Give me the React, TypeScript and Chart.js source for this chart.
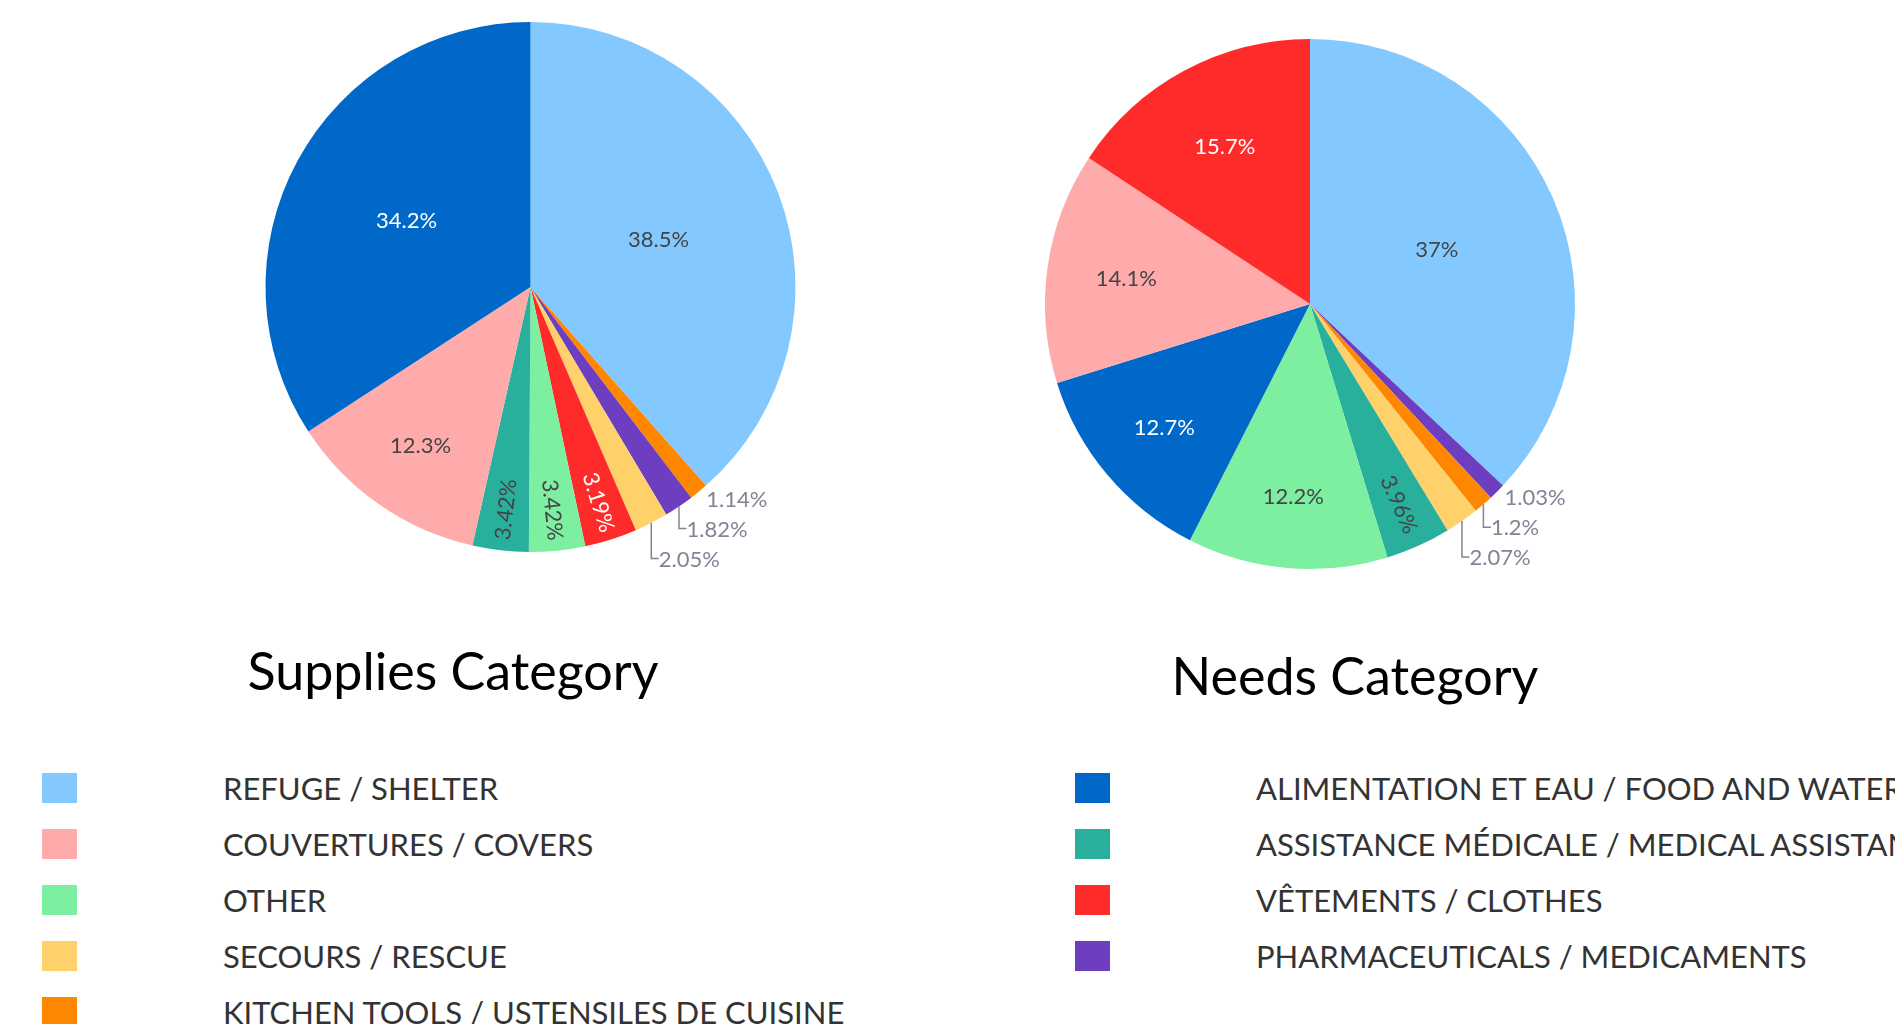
import React, { useEffect, useRef } from 'react';
import { Chart, registerables } from 'chart.js';

Chart.register(...registerables);

// ---- Data ----
const CATEGORIES = [
  'REFUGE / SHELTER',
  'COUVERTURES / COVERS',
  'OTHER',
  'SECOURS / RESCUE',
  'KITCHEN TOOLS / USTENSILES DE CUISINE',
  'ALIMENTATION ET EAU / FOOD AND WATER',
  'ASSISTANCE MÉDICALE / MEDICAL ASSISTANCE',
  'VÊTEMENTS / CLOTHES',
  'PHARMACEUTICALS / MEDICAMENTS',
];
const CATEGORY_COLORS = [
  '#83C9FF',
  '#FFABAB',
  '#7DEFA1',
  '#FFD16A',
  '#FF8700',
  '#0068C9',
  '#29B09D',
  '#FF2B2B',
  '#6D3FC0',
];

const SUPPLY_TITLE = 'Supplies Category';
const SUPPLY_CATEGORIES = [
  'REFUGE / SHELTER',
  'KITCHEN TOOLS / USTENSILES DE CUISINE',
  'PHARMACEUTICALS / MEDICAMENTS',
  'SECOURS / RESCUE',
  'VÊTEMENTS / CLOTHES',
  'OTHER',
  'ASSISTANCE MÉDICALE / MEDICAL ASSISTANCE',
  'COUVERTURES / COVERS',
  'ALIMENTATION ET EAU / FOOD AND WATER',
];
const SUPPLY_VALUES = [38.5, 1.14, 1.82, 2.05, 3.19, 3.42, 3.42, 12.3, 34.2];

const NEEDS_TITLE = 'Needs Category';
const NEEDS_CATEGORIES = [
  'REFUGE / SHELTER',
  'PHARMACEUTICALS / MEDICAMENTS',
  'KITCHEN TOOLS / USTENSILES DE CUISINE',
  'SECOURS / RESCUE',
  'ASSISTANCE MÉDICALE / MEDICAL ASSISTANCE',
  'OTHER',
  'ALIMENTATION ET EAU / FOOD AND WATER',
  'COUVERTURES / COVERS',
  'VÊTEMENTS / CLOTHES',
];
const NEEDS_VALUES = [37, 1.03, 1.2, 2.07, 3.96, 12.2, 12.7, 14.1, 15.7];

const LEGEND_LEFT = CATEGORIES.slice(0, 5);
const LEGEND_RIGHT = CATEGORIES.slice(5);

// ---- Styling ----
const FS = 22;
const LABEL_FONT = `${FS}px Lato, "Noto Sans", sans-serif`;
const TEXTPAD = 3;
const OUTSIDE_COLOR = '#808495';

function colorOf(cat: string) {
  return CATEGORY_COLORS[CATEGORIES.indexOf(cat)];
}

function fmtPct(v: number) {
  return `${parseFloat(v.toPrecision(3))}%`;
}

function isDark(hex: string) {
  const r = parseInt(hex.slice(1, 3), 16);
  const g = parseInt(hex.slice(3, 5), 16);
  const b = parseInt(hex.slice(5, 7), 16);
  return (r * 299 + g * 587 + b * 114) / 1000 < 128;
}

function maxHalfSize(a: number, halfAngle: number, r: number) {
  const q = a + 1 / (2 * Math.tan(halfAngle));
  return r * Math.min(1 / (Math.sqrt(q * q + 0.5) + q), 1 / (Math.sqrt(a * a + 0.5) + a));
}
function rCenterOf(a: number, b: number) {
  return Math.cos(b) - a * b;
}
function rotOf(t: number) {
  return ((180 / Math.PI) * t + 720) % 180 - 90;
}

const pieLabelPlugin = {
  id: 'pieLabels',
  afterDatasetsDraw(chart: any) {
    const ctx = chart.ctx as CanvasRenderingContext2D;
    const meta = chart.getDatasetMeta(0);
    const ds = chart.data.datasets[0];
    const data = ds.data as number[];
    const colors = ds.backgroundColor as string[];
    ctx.save();
    ctx.font = LABEL_FONT;
    ctx.textAlign = 'center';
    ctx.textBaseline = 'middle';
    const h = FS * 1.36;
    const outside: any[] = [];
    meta.data.forEach((el: any, i: number) => {
      const p = el.getProps(['x', 'y', 'startAngle', 'endAngle', 'outerRadius'], true);
      const text = fmtPct(data[i]);
      const w = ctx.measureText(text).width;
      const half = (p.endAngle - p.startAngle) / 2;
      const mid = (p.startAngle + p.endAngle) / 2;
      const pm = mid + Math.PI / 2;
      const r = p.outerRadius;
      const rIns = Math.min(1 / (1 + 1 / Math.sin(half)), 0.5);
      const hor = { scale: (rIns * r * 2) / Math.hypot(w, h), rCenter: 1 - rIns, rotate: 0 };
      let best = hor;
      if (hor.scale < 1) {
        const rr = Math.max(0, r - 2 * TEXTPAD);
        const aR = w / h;
        const sR = maxHalfSize(aR, half, rr);
        const rad = { scale: (sR * 2) / h, rCenter: rCenterOf(aR, sR / rr), rotate: rotOf(pm) };
        const aT = h / w;
        const sT = maxHalfSize(aT, half, rr);
        const tan = { scale: (sT * 2) / w, rCenter: rCenterOf(aT, sT / rr), rotate: rotOf(pm + Math.PI / 2) };
        best = [hor, rad, tan].reduce((m, t) => (t.scale > m.scale ? t : m));
      }
      if (best.scale >= 1) {
        const cx = p.x + Math.cos(mid) * r * best.rCenter;
        const cy = p.y + Math.sin(mid) * r * best.rCenter;
        ctx.save();
        ctx.translate(cx, cy);
        ctx.rotate((best.rotate * Math.PI) / 180);
        ctx.fillStyle = isDark(colors[i]) ? '#ffffff' : '#444444';
        ctx.fillText(text, 0, 1);
        ctx.restore();
      } else {
        const px = Math.cos(mid) * r;
        const py = Math.sin(mid) * r;
        let dx = w / 2;
        let dy = h / 2;
        if (px < 0) dx = -dx;
        if (py < 0) dy = -dy;
        const tx = dx + (Math.abs(dy) * (dx > 0 ? 1 : -1)) / 2;
        const ty = dy / (1 + (px * px) / (py * py));
        outside.push({ text, w, px, py, ox: p.x, oy: p.y, lx: p.x + px + tx, ly: p.y + py + ty, extraY: 0 });
      }
    });
    // push overlapping outside labels away from the equator
    const groups: Record<string, any[]> = {};
    outside.forEach((o) => {
      const key = `${o.px >= 0 ? 'r' : 'l'}${o.py >= 0 ? 'b' : 't'}`;
      (groups[key] = groups[key] || []).push(o);
    });
    Object.keys(groups).forEach((key) => {
      const g = groups[key];
      const bottom = key.endsWith('b');
      g.sort((a, b) => (bottom ? a.ly - b.ly : b.ly - a.ly));
      for (let k = 1; k < g.length; k++) {
        const prev = g[k - 1];
        const cur = g[k];
        if (bottom) {
          const prevBottom = prev.ly + prev.extraY + h / 2;
          const curTop = cur.ly - h / 2;
          if (curTop < prevBottom) cur.extraY = prevBottom - curTop;
        } else {
          const prevTop = prev.ly + prev.extraY - h / 2;
          const curBottom = cur.ly + h / 2;
          if (curBottom > prevTop) cur.extraY = prevTop - curBottom;
        }
      }
    });
    outside.forEach((o) => {
      const y = o.ly + o.extraY - 2;
      ctx.fillStyle = OUTSIDE_COLOR;
      ctx.fillText(o.text, o.lx, y + 1);
      if (o.extraY !== 0) {
        const sx = o.ox + o.px;
        const sy = o.oy + o.py;
        ctx.beginPath();
        ctx.moveTo(sx, sy);
        ctx.lineTo(sx, y);
        ctx.lineTo(sx + (h / 4) * (o.px >= 0 ? 1 : -1), y);
        ctx.strokeStyle = OUTSIDE_COLOR;
        ctx.lineWidth = 1.5;
        ctx.stroke();
      }
    });
    ctx.restore();
  },
};

type PieProps = {
  categories: string[];
  values: number[];
  left: number;
  top: number;
  width: number;
  height: number;
  padding: { left: number; top: number; right: number; bottom: number };
};

function PieChart({ categories, values, left, top, width, height, padding }: PieProps) {
  const ref = useRef<HTMLCanvasElement | null>(null);
  useEffect(() => {
    if (!ref.current) return;
    const chart = new Chart(ref.current, {
      type: 'pie',
      data: {
        labels: categories,
        datasets: [
          {
            data: values,
            backgroundColor: categories.map(colorOf),
            borderWidth: 0,
            hoverOffset: 0,
          },
        ],
      },
      options: {
        responsive: false,
        maintainAspectRatio: false,
        animation: false,
        layout: { padding },
        plugins: { legend: { display: false }, tooltip: { enabled: false } },
      } as any,
      plugins: [pieLabelPlugin as any],
    });
    return () => chart.destroy();
  }, [categories, values]);
  return (
    <canvas
      ref={ref}
      width={width}
      height={height}
      style={{ position: 'absolute', left, top, width, height }}
    />
  );
}

function LegendColumn({ items, boxLeft, textLeft }: { items: string[]; boxLeft: number; textLeft: number }) {
  return (
    <>
      {items.map((cat, i) => {
        const cy = 788 + i * 56;
        return (
          <React.Fragment key={cat}>
            <div
              style={{
                position: 'absolute',
                left: boxLeft,
                top: cy - 15,
                width: 35,
                height: 30,
                background: colorOf(cat),
              }}
            />
            <div
              style={{
                position: 'absolute',
                left: textLeft,
                top: cy - 16,
                height: 32,
                lineHeight: '32px',
                fontFamily: 'Lato, "Noto Sans", sans-serif',
                fontSize: 31,
                color: '#333333',
                whiteSpace: 'nowrap',
              }}
            >
              {cat}
            </div>
          </React.Fragment>
        );
      })}
    </>
  );
}

const titleStyle: React.CSSProperties = {
  position: 'absolute',
  width: 600,
  textAlign: 'center',
  fontFamily: 'Lato, "Noto Sans", sans-serif',
  fontSize: 52,
  lineHeight: '52px',
  color: '#000000',
  whiteSpace: 'nowrap',
};

export default function App() {
  return (
    <div
      style={{
        position: 'absolute',
        left: 0,
        top: 0,
        width: 1895,
        height: 1024,
        overflow: 'hidden',
        background: '#ffffff',
      }}
    >
      <PieChart
        categories={SUPPLY_CATEGORIES}
        values={SUPPLY_VALUES}
        left={200}
        top={0}
        width={700}
        height={620}
        padding={{ left: 65.5, top: 22, right: 104.5, bottom: 68 }}
      />
      <PieChart
        categories={NEEDS_CATEGORIES}
        values={NEEDS_VALUES}
        left={1000}
        top={0}
        width={700}
        height={620}
        padding={{ left: 45, top: 39, right: 125, bottom: 51 }}
      />
      <div style={{ ...titleStyle, left: 153, top: 644 }}>{SUPPLY_TITLE}</div>
      <div style={{ ...titleStyle, left: 1055, top: 649 }}>{NEEDS_TITLE}</div>
      <LegendColumn items={LEGEND_LEFT} boxLeft={42} textLeft={223} />
      <LegendColumn items={LEGEND_RIGHT} boxLeft={1075} textLeft={1256} />
    </div>
  );
}
